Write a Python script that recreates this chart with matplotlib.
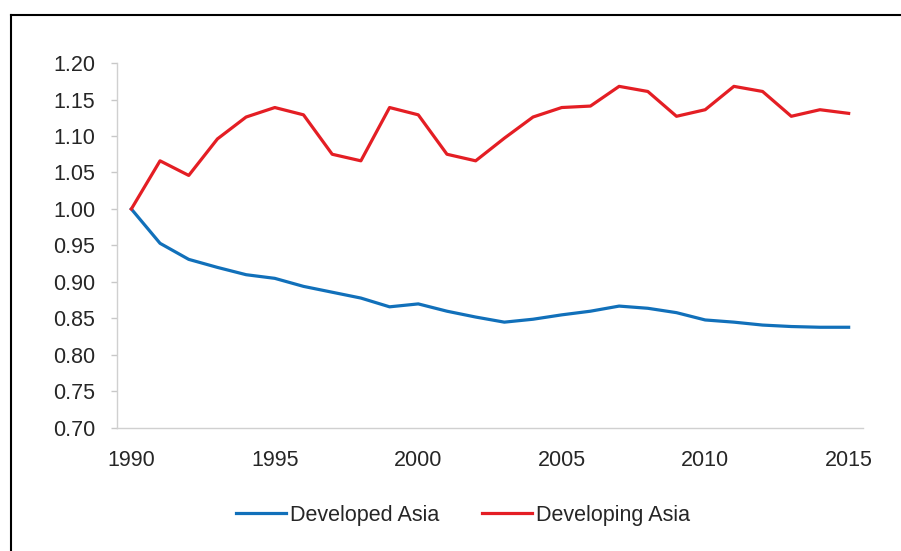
import matplotlib
matplotlib.use("Agg")
import matplotlib.pyplot as plt
from matplotlib.lines import Line2D

plt.rcParams['font.family'] = ['Liberation Sans', 'DejaVu Sans']

years = list(range(1990, 2016))
developed_asia = [1.000, 0.953, 0.931, 0.920, 0.910, 0.905, 0.894, 0.886, 0.878, 0.866,
                  0.870, 0.860, 0.852, 0.845, 0.849, 0.855, 0.860, 0.867, 0.864, 0.858,
                  0.848, 0.845, 0.841, 0.839, 0.838, 0.838]
developing_asia = [1.000, 1.066, 1.046, 1.096, 1.126, 1.139, 1.129, 1.075, 1.066, 1.139,
                   1.129, 1.075, 1.066, 1.097, 1.126, 1.139, 1.141, 1.168, 1.161, 1.127,
                   1.136, 1.168, 1.161, 1.127, 1.136, 1.131]
yticks = [0.70, 0.75, 0.80, 0.85, 0.90, 0.95, 1.00, 1.05, 1.10, 1.15, 1.20]
xtick_years = [1990, 1995, 2000, 2005, 2010, 2015]

W, H = 901, 551
fig = plt.figure(figsize=(W / 100, H / 100), dpi=100)
ax = fig.add_axes([117 / W, 1 - 428 / H, (863 - 117) / W, (428 - 63) / H])

blue = '#1170BA'
red = '#E41E24'
ax.plot(years, developed_asia, color=blue, lw=2.3, label='Developed Asia', solid_joinstyle='round')
ax.plot(years, developing_asia, color=red, lw=2.3, label='Developing Asia', solid_joinstyle='round')

ax.set_xlim(1989.5, 2015.5)
ax.set_ylim(0.70, 1.20)
ax.set_yticks(yticks)
ax.set_yticklabels([f"{v:.2f}" for v in yticks])
ax.set_xticks(xtick_years)
ax.set_xticklabels([str(y) for y in xtick_years])

for s in ['top', 'right']:
    ax.spines[s].set_visible(False)
for s in ['left', 'bottom']:
    ax.spines[s].set_color('#d0d0d0')
    ax.spines[s].set_linewidth(1.0)

ax.tick_params(axis='y', length=4.5, width=1.0, color='#c8c8c8', pad=11, labelsize=15.5, labelcolor='#262626')
ax.tick_params(axis='x', length=0, pad=16, labelsize=15.5, labelcolor='#262626')

fig.legend(loc='center', bbox_to_anchor=(463 / W, 1 - 515 / H), ncol=2, frameon=False,
           fontsize=15.5, handlelength=2.3, handletextpad=0.2, columnspacing=2.0,
           labelcolor='#262626')

# outer frame (top and left edges visible)
fig.add_artist(Line2D([11 / W, 1.0], [1 - 15 / H, 1 - 15 / H], color='black', lw=1.5,
                      transform=fig.transFigure))
fig.add_artist(Line2D([11 / W, 11 / W], [1 - 15 / H, 0.0], color='black', lw=1.5,
                      transform=fig.transFigure))

fig.savefig('out.png', dpi=100)
